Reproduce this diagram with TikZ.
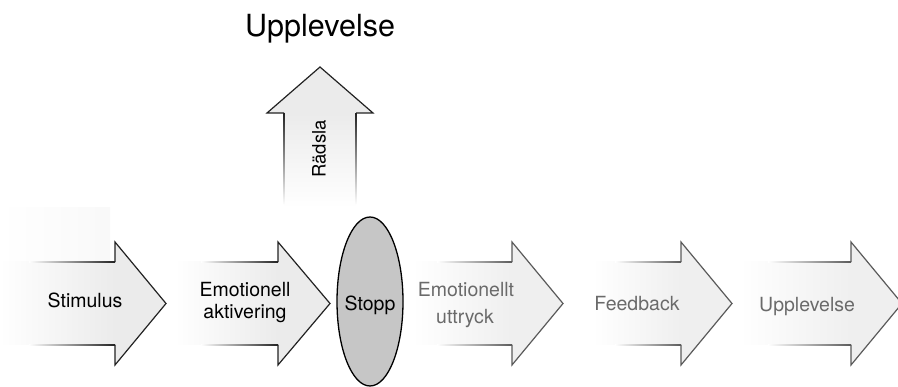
\documentclass[tikz,border=0pt]{standalone}
\usepackage{fontspec}
\setmainfont{TeX Gyre Heros}
\usetikzlibrary{shapes.geometric}
\definecolor{darkedge}{HTML}{222222}
\definecolor{lightedge}{HTML}{5A5A5A}
\definecolor{headfill}{HTML}{EBEBEB}
\definecolor{headfillB}{HTML}{EFEFEF}
\definecolor{greytext}{HTML}{6A6A6A}
\definecolor{stopfill}{HTML}{C6C6C6}
% #1 body left, #2 head base, #3 tip, #4 edge colour, #5 fill colour
\newcommand{\flowarrow}[5]{%
  \shade[left color=white, right color=#5] (#1,262) rectangle (#2,345);
  \fill[#5] (#2,262) -- (#2,242) -- (#3,303.5) -- (#2,365) -- (#2,345) -- cycle;
  \shade[left color=white, right color=#4] ({#1+0.25*(#2-#1)},261.4) rectangle (#2,262.6);
  \shade[left color=white, right color=#4] ({#1+0.25*(#2-#1)},344.4) rectangle (#2,345.6);
  \draw[#4, line width=1.2pt, line join=miter] (#2,262) -- (#2,242) -- (#3,303.5) -- (#2,365) -- (#2,345);
}
\tikzset{
  lbl/.style={inner sep=0pt, anchor=base, font=\fontsize{19.5}{23}\selectfont},
  lblgrey/.style={lbl, text=greytext}
}
\begin{document}
\begin{tikzpicture}[x=1pt, y=-1pt]
\useasboundingbox (0,0) rectangle (898,387);
% faint backdrop at the top left
\shade[left color=white, right color=black!2.5] (0,208) rectangle (110,262);
% horizontal arrows
\flowarrow{0}{115}{166}{darkedge}{headfill}
\flowarrow{175}{278}{330}{darkedge}{headfill}
\flowarrow{412}{512}{563}{lightedge}{headfillB}
\flowarrow{593}{681}{732}{lightedge}{headfillB}
\flowarrow{740}{851}{902}{lightedge}{headfillB}
% upward arrow
\shade[top color=headfill, bottom color=white] (284,113) rectangle (356,208);
\shade[top color=darkedge, bottom color=white] (283.4,113) rectangle (284.6,205);
\shade[top color=darkedge, bottom color=white] (355.4,113) rectangle (356.6,205);
\fill[headfill] (284,113) -- (267,113) -- (320,67) -- (373,113) -- (356,113) -- cycle;
\draw[darkedge, line width=1.2pt, line join=miter] (284,113) -- (267,113) -- (320,67) -- (373,113) -- (356,113);
\node[inner sep=0pt, rotate=90, font=\fontsize{18.5}{22}\selectfont] (fear) at (319,149) {Rädsla};
\node[inner sep=0pt, anchor=base, font=\fontsize{30.5}{34}\selectfont] (title) at (320,37) {Upplevelse};
% stop ellipse
\node[ellipse, draw=black, line width=1.3pt, fill=stopfill, minimum width=66pt, minimum height=169pt, inner sep=0pt] (stopp) at (370,301.5) {};
\node[lbl] (stopptext) at (370,311) {Stopp};
% labels
\node[lbl] (stim) at (85,308) {Stimulus};
\node[lbl] (akt1) at (245,297) {Emotionell};
\node[lbl] (akt2) at (245,319) {aktivering};
\node[lblgrey] (utt1) at (466,297) {Emotionellt};
\node[lblgrey] (utt2) at (465,324) {uttryck};
\node[lblgrey] (feed) at (637,311) {Feedback};
\node[lblgrey] (upp) at (807,312) {Upplevelse};
\end{tikzpicture}
\end{document}
